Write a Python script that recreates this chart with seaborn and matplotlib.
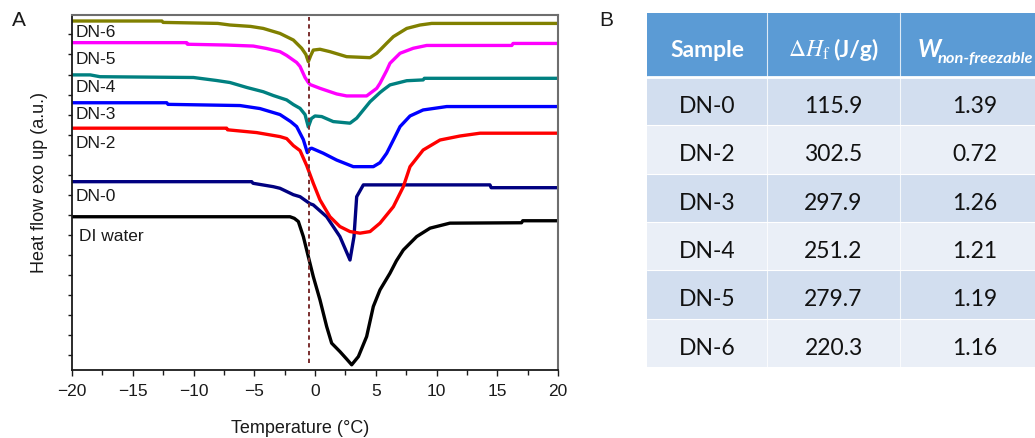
import numpy as np
import pandas as pd
import matplotlib
matplotlib.use("Agg")
import matplotlib.pyplot as plt
import seaborn as sns
from matplotlib.patches import Rectangle

# ---------------- data (panel A: DSC curves) ----------------
samples_curves = ["DI water", "DN-0", "DN-2", "DN-3", "DN-4", "DN-5", "DN-6"]
curve_colors = ["#000000", "#000080", "#FF0000", "#0000FF", "#008080", "#FF00FF", "#808000"]

T_water = [-20, -2.06, -1.7, -1.37, -0.96, -0.55, -0.14, 0.41, 0.96, 1.37, 2.05, 2.6, 3.02,
           3.57, 4.25, 4.8, 5.35, 6.17, 6.7, 7.27, 8.37, 9.47, 11.1, 17.0, 17.1, 20]
H_water = [6.9, 6.9, 6.82, 6.66, 5.91, 4.91, 3.91, 2.75, 1.42, 0.59, 0.17, -0.2, -0.49,
           -0.08, 0.92, 2.42, 3.25, 4.08, 4.7, 5.24, 5.91, 6.33, 6.58, 6.6, 6.7, 6.7]

T_dn0 = [-20, -5.21, -5.1, -3.43, -2.88, -1.78, -1.23, -0.41, -0.14, 0.96, 2.05, 2.88,
         3.21, 3.43, 3.98, 14.4, 14.5, 20]
H_dn0 = [8.65, 8.65, 8.57, 8.4, 8.32, 8.0, 7.9, 7.55, 7.49, 6.9, 5.91, 4.74,
         5.91, 7.9, 8.49, 8.49, 8.35, 8.35]

T_dn2 = [-20, -7.27, -7.2, -4.8, -2.88, -2.33, -1.78, -1.23, -0.68, -0.14, 0.41, 1.23,
         2.05, 2.88, 3.7, 4.53, 5.35, 6.45, 7.27, 7.82, 8.9, 10.29, 11.93, 13.58, 20]
H_dn2 = [11.32, 11.32, 11.24, 11.1, 10.9, 10.8, 10.45, 10.2, 9.45, 8.57, 7.74, 6.9,
         6.41, 6.16, 6.08, 6.16, 6.58, 7.4, 8.4, 9.4, 10.23, 10.73, 10.93, 11.07, 11.07]

T_dn3 = [-20, -12.2, -12.1, -6.17, -4.53, -2.88, -2.0, -1.51, -0.96, -0.63, -0.41, -0.27,
         0.68, 1.78, 3.15, 4.8, 5.35, 5.9, 6.45, 7.0, 7.82, 8.9, 10.84, 20]
H_dn3 = [12.59, 12.59, 12.51, 12.45, 12.3, 12.0, 11.65, 11.4, 10.75, 10.1, 10.3, 10.32,
         10.07, 9.73, 9.4, 9.4, 9.6, 10.07, 10.73, 11.4, 11.93, 12.23, 12.4, 12.4]

T_dn4 = [-20, -18.5, -17.7, -10.0, -8.1, -7.0, -5.6, -4.26, -3.43, -2.33, -1.78, -1.23,
         -0.82, -0.55, -0.3, 0.0, 0.55, 1.5, 2.88, 3.43, 4.53, 5.35, 5.62, 6.17, 7.55,
         8.9, 9.0, 20]
H_dn4 = [13.98, 13.98, 13.89, 13.85, 13.7, 13.6, 13.35, 13.14, 12.95, 12.73, 12.5, 12.31,
         12.0, 11.38, 11.8, 11.93, 11.9, 11.65, 11.57, 11.82, 12.64, 13.1, 13.23, 13.48,
         13.69, 13.73, 13.81, 13.81]

T_dn5 = [-20, -10.56, -10.5, -7.27, -5.08, -4.0, -2.88, -2.33, -1.51, -1.23, -0.82, -0.55,
         -0.41, 0.41, 1.78, 2.6, 4.25, 5.08, 5.35, 5.9, 6.17, 7.0, 8.09, 9.19, 16.2, 16.3, 20]
H_dn5 = [15.59, 15.59, 15.51, 15.47, 15.42, 15.3, 15.14, 14.95, 14.6, 14.4, 13.85, 13.6,
         13.5, 13.31, 13.03, 12.93, 12.93, 13.31, 13.56, 14.2, 14.56, 15.06, 15.31, 15.45,
         15.45, 15.55, 15.55]

T_dn6 = [-20, -12.6, -12.5, -8.0, -7.0, -5.3, -4.26, -2.88, -1.78, -1.1, -0.75, -0.55,
         -0.35, -0.14, 0.41, 1.23, 2.6, 4.53, 5.08, 5.35, 5.9, 6.45, 7.55, 8.64, 9.6, 20]
H_dn6 = [16.67, 16.67, 16.6, 16.55, 16.47, 16.4, 16.3, 16.05, 15.72, 15.31, 15.0, 14.64,
         14.95, 15.22, 15.26, 15.14, 14.89, 14.84, 15.06, 15.22, 15.56, 15.89, 16.3, 16.47,
         16.55, 16.55]

curve_T = [T_water, T_dn0, T_dn2, T_dn3, T_dn4, T_dn5, T_dn6]
curve_H = [H_water, H_dn0, H_dn2, H_dn3, H_dn4, H_dn5, H_dn6]

# curve label positions (T, heat flow)
label_texts = ["DN-6", "DN-5", "DN-4", "DN-3", "DN-2", "DN-0", "DI water"]
label_T = [-19.73, -19.73, -19.73, -19.73, -19.73, -19.73, -19.39]
label_H = [16.08, 14.75, 13.33, 12.0, 10.58, 7.92, 5.92]

dash_T = -0.5
x_ticks = [-20, -15, -10, -5, 0, 5, 10, 15, 20]

# ---------------- data (panel B: table) ----------------
table_samples = ["DN-0", "DN-2", "DN-3", "DN-4", "DN-5", "DN-6"]
table_dHf = [115.9, 302.5, 297.9, 251.2, 279.7, 220.3]
table_Wnf = [1.39, 0.72, 1.26, 1.21, 1.19, 1.16]

# ---------------- style ----------------
sns.set_style("ticks")
plt.rcParams["font.family"] = ["Liberation Sans", "DejaVu Sans"]
plt.rcParams["mathtext.fontset"] = "stix"

W, Hpx = 1035, 438
fig = plt.figure(figsize=(W / 100, Hpx / 100), dpi=100)

# ---------------- panel A ----------------
ax_l, ax_r, ax_t, ax_b = 72, 558, 15, 370
ax = fig.add_axes([ax_l / W, 1 - ax_b / Hpx, (ax_r - ax_l) / W, (ax_b - ax_t) / Hpx])

rows = []
for name, ts, hs in zip(samples_curves, curve_T, curve_H):
    for i, (t, h) in enumerate(zip(ts, hs)):
        rows.append({"T": t, "HF": h, "sample": name, "order": i})
df = pd.DataFrame(rows)
sns.lineplot(data=df, x="T", y="HF", hue="sample", palette=dict(zip(samples_curves, curve_colors)),
             hue_order=samples_curves, estimator=None, sort=False, units="sample",
             legend=False, lw=2.4, ax=ax)

ax.set_xlim(-20, 20)
ax.set_ylim(-0.75, 16.97)
ax.axvline(dash_T, ymin=0.019, ymax=0.995, color="#7a2e2e", lw=1.4, ls=(0, (2.2, 1.8)))

for txt, tx, hy in zip(label_texts, label_T, label_H):
    ax.text(tx, hy, txt, fontsize=12.5, color="#1a1a1a", ha="left", va="center")

ax.set_xticks(x_ticks)
ax.set_xticks(np.arange(-17.5, 20, 5), minor=True)
ax.set_xticklabels([f"{v}".replace("-", "\u2212") for v in x_ticks], fontsize=12.5)
ax.set_yticks(np.arange(0, 17))
ax.set_yticklabels([])
ax.tick_params(axis="x", which="major", direction="out", length=4, width=1, pad=6, colors="#1a1a1a")
ax.tick_params(axis="x", which="minor", direction="out", length=3.5, width=1, colors="#1a1a1a")
ax.tick_params(axis="y", which="major", direction="out", length=3, width=1, colors="#1a1a1a")
for s in ["left", "bottom"]:
    ax.spines[s].set_color("#1a1a1a")
    ax.spines[s].set_linewidth(1.3)
for s in ["top", "right"]:
    ax.spines[s].set_color("#6e6e6e")
    ax.spines[s].set_linewidth(1.5)
ax.set_xlabel("Temperature (\u00b0C)", fontsize=13, color="#1a1a1a")
ax.set_ylabel("Heat flow exo up (a.u.)", fontsize=13, color="#1a1a1a")
ax.xaxis.set_label_coords(0.469, -0.14)
ax.yaxis.set_label_coords(-0.05, 0.527)

fig.text(12 / W, 1 - 11 / Hpx, "A", fontsize=15, ha="left", va="top", color="#1a1a1a")
fig.text(599 / W, 1 - 11 / Hpx, "B", fontsize=15, ha="left", va="top", color="#1a1a1a")

# ---------------- panel B (table) ----------------
t_l, t_r, t_t, t_b = 647, 1050, 13, 367
tax = fig.add_axes([t_l / W, 1 - t_b / Hpx, (t_r - t_l) / W, (t_b - t_t) / Hpx])
tw, th = t_r - t_l, t_b - t_t
tax.set_xlim(0, tw)
tax.set_ylim(th, 0)
tax.axis("off")

col_edges = [0, 120, 253, tw]
col_centers = [(a + b) / 2 for a, b in zip(col_edges[:-1], col_edges[1:])]
header_h = 64
row_h = (th - header_h) / len(table_samples)
row_colors = ["#D2DEEF", "#EAEFF7"]
header_color = "#5B9BD5"
body_font = ["Lato", "DejaVu Sans"]

tax.add_patch(Rectangle((0, 0), tw, header_h, fc=header_color, ec="none"))
for i in range(len(table_samples)):
    y0 = header_h + i * row_h
    tax.add_patch(Rectangle((0, y0), tw, row_h, fc=row_colors[i % 2], ec="none"))
    base = y0 + 36
    tax.text(col_centers[0], base, table_samples[i], fontsize=16.5, family=body_font,
             ha="center", va="baseline", color="#111111")
    tax.text(col_centers[1], base, f"{table_dHf[i]:.1f}", fontsize=16.5, family=body_font,
             ha="center", va="baseline", color="#111111")
    tax.text(col_centers[2], base, f"{table_Wnf[i]:.2f}", fontsize=16.5, family=body_font,
             ha="center", va="baseline", color="#111111")

for xe in col_edges[1:-1]:
    tax.plot([xe, xe], [0, th], color="white", lw=0.8, alpha=0.8)
tax.plot([0, tw], [header_h, header_h], color="white", lw=2)
for i in range(1, len(table_samples)):
    yl = header_h + i * row_h
    tax.plot([0, tw], [yl, yl], color="white", lw=0.8)

hb = 44
tax.text(col_centers[0], hb, "Sample", fontsize=16.5, family=body_font, weight="bold",
         ha="center", va="baseline", color="white")
tax.text(183, hb, r"$\Delta H_{\mathrm{f}}$", fontsize=17, ha="right", va="baseline", color="white")
tax.text(186, hb, "(J/g)", fontsize=16.5, family=body_font, weight="bold",
         ha="left", va="baseline", color="white")
tax.text(271, hb, "W", fontsize=17.5, family=body_font, weight="bold", style="italic",
         ha="left", va="baseline", color="white")
tax.text(291, hb + 6, "non-freezable", fontsize=11.8, family=body_font, weight="bold",
         style="italic", ha="left", va="baseline", color="white")

fig.savefig("out.png", dpi=100)
